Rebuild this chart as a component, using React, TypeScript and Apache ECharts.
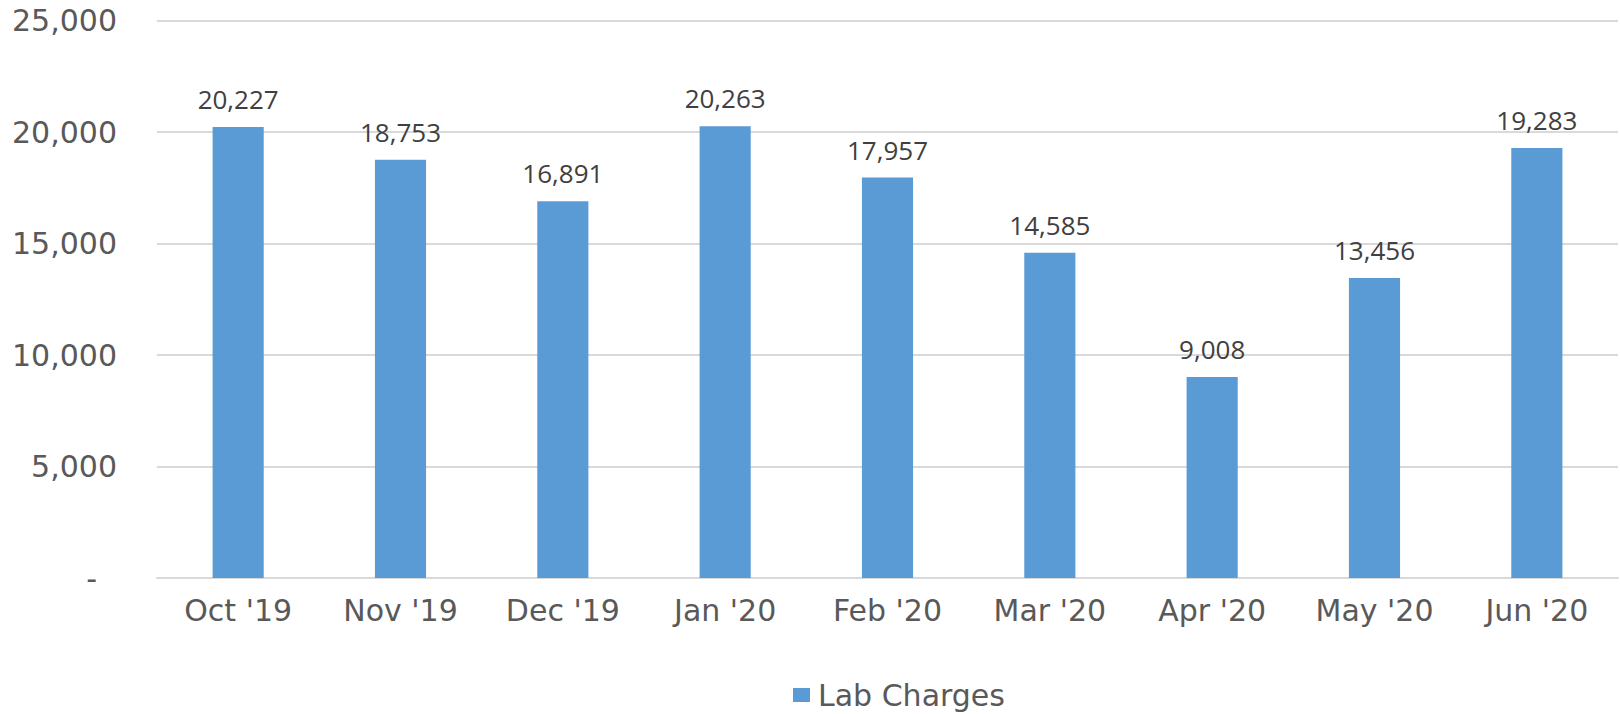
import React, { useEffect, useRef } from "react";
import * as echarts from "echarts";

const categories = ["Oct '19", "Nov '19", "Dec '19", "Jan '20", "Feb '20", "Mar '20", "Apr '20", "May '20", "Jun '20"];
const labCharges = [20227, 18753, 16891, 20263, 17957, 14585, 9008, 13456, 19283];
const yMin = 0;
const yMax = 25000;
const yInterval = 5000;

const fmt = (v: number) => v.toLocaleString("en-US");
const axisFont = "DejaVu Sans";

export default function App() {
  const ref = useRef<HTMLDivElement>(null);
  useEffect(() => {
    if (!ref.current) return;
    const chart = echarts.init(ref.current, null, { renderer: "svg" });
    chart.setOption({
      animation: false,
      backgroundColor: "#ffffff",
      grid: { left: 157, right: 2, top: 20.5, bottom: 136, containLabel: false },
      legend: {
        data: ["Lab Charges"],
        left: 788,
        top: 675,
        itemWidth: 17,
        itemHeight: 14,
        itemGap: 10,
        icon: "rect",
        textStyle: { fontFamily: axisFont, fontSize: 30, color: "#595959", padding: [0, 0, 0, 3] },
      },
      xAxis: {
        type: "category",
        data: categories,
        axisLine: { show: true, lineStyle: { color: "#d9d9d9", width: 2 } },
        axisTick: { show: false },
        axisLabel: { fontFamily: axisFont, fontSize: 30, color: "#595959", margin: 17 },
      },
      yAxis: {
        type: "value",
        min: yMin,
        max: yMax,
        interval: yInterval,
        axisLine: { show: false },
        axisTick: { show: false },
        splitLine: { lineStyle: { color: "#d9d9d9", width: 2 } },
        axisLabel: {
          margin: 40,
          formatter: (v: number) => (v === 0 ? "{d|-}" : fmt(v)),
          fontFamily: axisFont,
          fontSize: 30,
          color: "#595959",
          rich: { d: { fontFamily: axisFont, fontSize: 30, color: "#595959", padding: [0, 20, 0, 0] } },
        },
      },
      series: [
        {
          name: "Lab Charges",
          type: "bar",
          data: labCharges,
          barWidth: "31.5%",
          itemStyle: { color: "#5B9BD5" },
          label: {
            show: true,
            position: "top",
            distance: 15,
            formatter: (p: any) => fmt(p.value),
            fontFamily: "Open Sans",
            fontSize: 26,
            color: "#404040",
          },
        },
      ],
    });
    return () => chart.dispose();
  }, []);
  return <div ref={ref} style={{ position: "fixed", left: 0, top: 0, width: 1620, height: 714 }} />;
}
